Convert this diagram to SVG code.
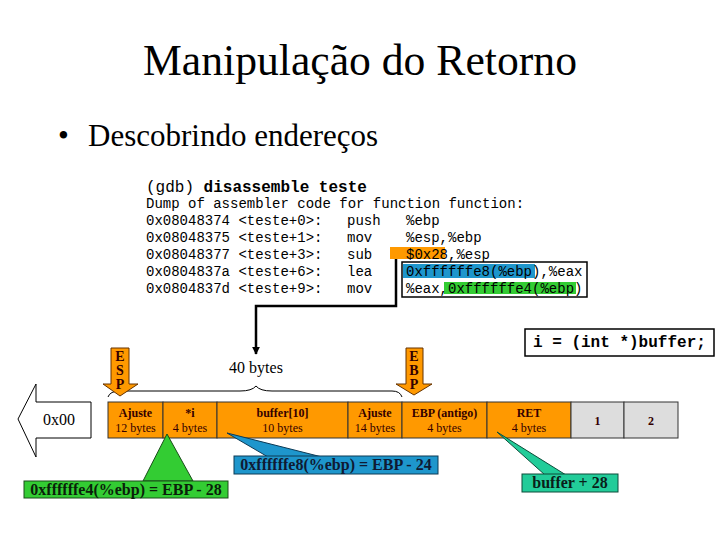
<svg xmlns="http://www.w3.org/2000/svg" width="720" height="540" viewBox="0 0 720 540">
<defs>
<style>
.serif{font-family:"Liberation Serif","Times New Roman",serif}
.mono{font-family:"Liberation Mono","Courier New",monospace}
.code{font-family:"Liberation Mono","Courier New",monospace;font-size:14px;fill:#000}
.cell{fill:#FF9900;stroke:#333;stroke-width:1}
.gray{fill:#DDDDDD;stroke:#333;stroke-width:1}
.ct{font-family:"Liberation Serif","Times New Roman",serif;font-size:12px;fill:#330000;text-anchor:middle}
.ctb{font-family:"Liberation Serif","Times New Roman",serif;font-size:12px;font-weight:bold;fill:#330000;text-anchor:middle}
.ptr{fill:#FF9900;stroke:#663300;stroke-width:1}
.ptrt{font-family:"Liberation Serif","Times New Roman",serif;font-size:14px;font-weight:bold;fill:#330000;text-anchor:middle}
.call{font-family:"Liberation Serif","Times New Roman",serif;font-size:16px;font-weight:bold;text-anchor:middle}
</style>
<marker id="ah" viewBox="0 0 10 10" refX="9" refY="5" markerWidth="3.2" markerHeight="3.2" orient="auto" markerUnits="strokeWidth">
<path d="M0,0 L10,5 L0,10 z" fill="#000"/>
</marker>
</defs>
<rect width="720" height="540" fill="#fff"/>

<g id="title">
<text x="360" y="75" class="serif" font-size="45" text-anchor="middle" fill="#000" textLength="434" lengthAdjust="spacingAndGlyphs">Manipulação do Retorno</text>
</g>
<g id="bullet">
<text x="58" y="146" class="serif" font-size="31" fill="#000">•</text>
<text x="88" y="146" class="serif" font-size="31" fill="#000">Descobrindo endereços</text>
</g>

<g id="code">
<text x="146" y="192" class="mono" font-size="16" fill="#000">(gdb) <tspan font-weight="bold">disassemble teste</tspan></text>
<text x="146" y="208" class="code">Dump of assembler code for function function:</text>
<rect x="402" y="262" width="185" height="35" fill="#fff" stroke="#000" stroke-width="1.5"/>
<rect x="390" y="247" width="55" height="12" fill="#FF9900"/>
<rect x="403" y="264" width="132" height="14" fill="#1E96CC"/>
<rect x="444" y="282" width="132" height="12" fill="#33CC33"/>
<text x="146" y="225" class="code">0x08048374 &lt;teste+0&gt;:<tspan x="347">push</tspan><tspan x="406">%ebp</tspan></text>
<text x="146" y="242" class="code">0x08048375 &lt;teste+1&gt;:<tspan x="347">mov</tspan><tspan x="406">%esp,%ebp</tspan></text>
<text x="146" y="259" class="code">0x08048377 &lt;teste+3&gt;:<tspan x="347">sub</tspan><tspan x="406">$0x28,%esp</tspan></text>
<text x="146" y="276" class="code">0x0804837a &lt;teste+6&gt;:<tspan x="347">lea</tspan><tspan x="406">0xffffffe8(%ebp),%eax</tspan></text>
<text x="146" y="293" class="code">0x0804837d &lt;teste+9&gt;:<tspan x="347">mov</tspan><tspan x="406">%eax,0xffffffe4(%ebp)</tspan></text>
</g>

<g id="connectors">
<path d="M396,259 V306 H256 V354" fill="none" stroke="#000" stroke-width="2.5" marker-end="url(#ah)"/>
<path d="M108,397 Q110,391 120,391 H240 Q252,391 256,386 Q260,391 272,391 H392 Q400,391 402,397" fill="none" stroke="#000" stroke-width="1"/>
</g>

<g id="assign">
<rect x="525" y="329" width="189" height="27" fill="#fff" stroke="#000" stroke-width="1.5"/>
<text x="533" y="347" class="mono" font-size="16" font-weight="bold" fill="#000">i = (int *)buffer;</text>
</g>

<g id="size-label">
<text x="256" y="373" class="serif" font-size="16" text-anchor="middle" fill="#000">40 bytes</text>
</g>

<g id="esp">
<polygon class="ptr" points="111,348 129,348 129,384 138,384 120,396 103,384 111,384"/>
<text class="ptrt" x="120" y="361">E<tspan x="120" dy="14">S</tspan><tspan x="120" dy="14">P</tspan></text>
</g>
<g id="ebp">
<polygon class="ptr" points="406,348 423,348 423,384 432,384 414,395 396,384 406,384"/>
<text class="ptrt" x="414" y="361">E<tspan x="414" dy="14">B</tspan><tspan x="414" dy="14">P</tspan></text>
</g>

<g id="low-address">
<polygon points="18,419 36,384 36,402 91,402 91,438 36,438 36,457" fill="#fff" stroke="#000" stroke-width="1"/>
<text x="59" y="425" class="serif" font-size="16" text-anchor="middle" fill="#000">0x00</text>
</g>

<g id="cell-ajuste1">
<rect class="cell" x="108" y="402" width="55" height="36"/>
<text x="135.5" y="417" class="ctb">Ajuste</text>
<text x="135.5" y="432" class="ct">12 bytes</text>
</g>
<g id="cell-i">
<rect class="cell" x="163" y="402" width="54" height="36"/>
<text x="190" y="417" class="ctb">*i</text>
<text x="190" y="432" class="ct">4 bytes</text>
</g>
<g id="cell-buffer">
<rect class="cell" x="217" y="402" width="131" height="36"/>
<text x="282.5" y="417" class="ctb">buffer[10]</text>
<text x="282.5" y="432" class="ct">10 bytes</text>
</g>
<g id="cell-ajuste2">
<rect class="cell" x="348" y="402" width="54" height="36"/>
<text x="375" y="417" class="ctb">Ajuste</text>
<text x="375" y="432" class="ct">14 bytes</text>
</g>
<g id="cell-ebp">
<rect class="cell" x="402" y="402" width="85" height="36"/>
<text x="444.5" y="417" class="ctb">EBP (antigo)</text>
<text x="444.5" y="432" class="ct">4 bytes</text>
</g>
<g id="cell-ret">
<rect class="cell" x="487" y="402" width="84" height="36"/>
<text x="529" y="417" class="ctb">RET</text>
<text x="529" y="432" class="ct">4 bytes</text>
</g>
<g id="cell-1">
<rect class="gray" x="571" y="402" width="53" height="36"/>
<text x="597.5" y="425" class="ctb" font-size="14">1</text>
</g>
<g id="cell-2">
<rect class="gray" x="624" y="402" width="54" height="36"/>
<text x="651" y="425" class="ctb" font-size="14">2</text>
</g>

<g id="callout-green">
<polygon points="167,434 143,481 193,481" fill="#33CC33" stroke="#1a4d1a" stroke-width="1"/>
<rect x="24" y="481" width="204" height="17" fill="#33CC33" stroke="#1a4d1a" stroke-width="1"/>
<text x="126" y="495" class="call" fill="#0a1f0a">0xffffffe4(%ebp) = EBP - 28</text>
</g>
<g id="callout-blue">
<polygon points="227,433 268,457 322,457" fill="#1E96CC" stroke="#0d3a55" stroke-width="1"/>
<rect x="234" y="456" width="204" height="18" fill="#1E96CC" stroke="#0d3a55" stroke-width="1"/>
<text x="336" y="470" class="call" fill="#0f1a33">0xffffffe8(%ebp) = EBP - 24</text>
</g>
<g id="callout-teal">
<polygon points="497,432 545,475 566,475" fill="#22CC99" stroke="#0d4d3a" stroke-width="1"/>
<rect x="522" y="474" width="96" height="18" fill="#22CC99" stroke="#0d4d3a" stroke-width="1"/>
<text x="570" y="488" class="call" fill="#0a1f1a">buffer + 28</text>
</g>
</svg>
